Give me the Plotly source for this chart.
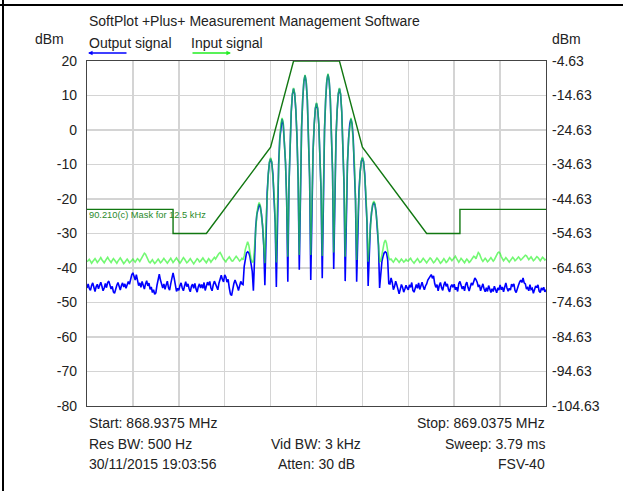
import numpy as np
import plotly.graph_objects as go

# ---------------- data ----------------
start_mhz = 868.9375
stop_mhz = 869.0375
centre_mhz = 868.9875
n_points = 401

# Output signal (blue), dBm, one value per 0.25 kHz sweep point
output_dbm = [
    -45.8,-44.6,-45.9,-46.5,-45.1,-44.3,-45.6,-46.8,-45.4,-44.7,-46.0,-45.2,-44.1,-45.3,-46.6,-45.8,-44.5,-45.7,-44.2,-43.8,
    -44.9,-46.1,-45.3,-46.9,-47.3,-45.8,-45.0,-44.2,-45.6,-46.4,-45.1,-44.3,-45.5,-44.6,-45.9,-44.8,-43.9,-44.7,-42.8,-42.0,
    -41.4,-42.9,-43.5,-41.9,-43.8,-45.1,-44.3,-45.6,-43.9,-44.8,-46.1,-44.6,-43.7,-45.2,-44.4,-46.2,-45.5,-47.1,-46.3,-47.6,
    -47.2,-45.0,-42.6,-41.8,-43.5,-44.9,-45.8,-44.6,-46.2,-44.9,-43.8,-45.7,-46.4,-44.5,-43.1,-41.4,-43.0,-45.2,-46.8,-45.9,
    -46.5,-45.1,-44.3,-45.8,-46.6,-45.2,-44.0,-45.4,-44.6,-46.0,-46.9,-45.3,-44.7,-45.9,-44.5,-46.1,-47.0,-45.4,-44.6,-45.8,
    -44.8,-45.9,-44.2,-46.5,-45.3,-44.1,-45.0,-43.9,-45.8,-46.6,-44.9,-43.8,-44.6,-45.7,-46.3,-44.4,-43.2,-42.1,-43.3,-44.0,
    -42.0,-42.6,-44.1,-43.3,-45.8,-47.6,-48.0,-46.0,-44.5,-43.5,-44.2,-45.3,-46.5,-45.1,-43.9,-44.6,-44.8,-39.5,-36.8,-35.6,
    -35.3,-35.6,-36.7,-38.4,-41.0,-46.6,-34.1,-28.3,-24.5,-22.3,-21.5,-22.2,-24.3,-27.8,-33.3,-45.0,-26.7,-18.2,-12.7,-9.4,
    -8.3,-9.4,-12.8,-18.3,-26.9,-45.5,-21.2,-9.9,-2.6,1.7,3.2,1.8,-2.5,-9.5,-20.4,-44.0,-16.0,-3.1,5.3,10.3,
    12.0,10.4,5.7,-2.2,-14.3,-40.5,-12.4,0.6,9.0,14.1,15.8,14.0,8.7,-0.2,-13.9,-43.5,-17.9,-6.1,1.6,6.2,
    7.7,6.2,1.6,-6.0,-17.7,-43.0,-13.5,0.1,9.0,14.3,16.1,14.4,9.3,0.9,-12.1,-40.3,-14.2,-2.1,5.7,10.4,
    12.0,10.3,5.3,-3.1,-15.9,-43.8,-20.3,-9.5,-2.4,1.8,3.2,1.8,-2.5,-9.5,-20.4,-44.0,-26.1,-17.8,-12.4,-9.2,
    -8.1,-9.2,-12.6,-18.1,-26.7,-45.2,-33.1,-27.5,-23.9,-21.7,-21.0,-21.7,-24.0,-27.7,-33.4,-45.8,-40.6,-38.1,-36.6,-35.6,
    -35.3,-35.6,-37.5,-44.5,-44.6,-42.9,-44.2,-46.3,-45.4,-43.8,-44.9,-46.8,-47.5,-46.2,-44.8,-45.6,-47.0,-46.1,-45.0,-45.8,
    -46.3,-44.9,-45.6,-44.2,-46.5,-47.0,-45.6,-44.8,-45.9,-44.3,-46.2,-45.0,-44.1,-45.4,-46.3,-45.2,-44.6,-43.5,-42.9,-42.2,
    -41.9,-43.0,-42.3,-44.5,-45.6,-44.8,-46.6,-45.1,-44.2,-45.7,-46.5,-44.9,-44.0,-45.3,-44.6,-46.2,-46.9,-45.4,-44.8,-45.6,
    -44.7,-46.3,-45.6,-46.8,-44.5,-43.9,-45.2,-46.1,-45.3,-46.6,-44.8,-44.1,-45.6,-46.7,-45.5,-44.3,-45.0,-43.5,-42.9,-43.4,
    -44.1,-45.5,-44.9,-46.6,-45.2,-44.6,-46.0,-46.9,-45.7,-46.8,-45.1,-46.3,-47.1,-46.0,-46.8,-45.3,-46.5,-47.2,-45.8,-46.4,
    -44.9,-46.3,-45.5,-46.9,-45.6,-44.3,-45.8,-46.7,-45.9,-46.4,-44.7,-45.2,-44.6,-46.5,-47.1,-45.7,-45.0,-44.1,-43.5,-44.2,
    -42.9,-44.3,-44.6,-46.1,-45.7,-46.6,-44.8,-46.2,-45.9,-47.3,-46.0,-45.2,-45.7,-44.9,-46.7,-47.1,-45.8,-46.4,-45.6,-46.9,
    -46.3,
]

# Input signal (green), dBm
input_dbm = [
    -38.2,-37.9,-37.5,-38.0,-38.6,-38.1,-37.6,-37.3,-37.8,-38.4,-38.0,-37.4,-37.0,-37.6,-38.3,-38.5,-37.9,-37.2,-36.9,-37.5,
    -38.1,-38.4,-37.8,-37.3,-37.7,-38.3,-38.6,-38.0,-37.5,-37.1,-37.6,-38.2,-38.7,-38.3,-37.8,-37.4,-37.9,-38.5,-38.2,-37.6,
    -37.4,-37.9,-38.3,-37.8,-37.3,-37.6,-38.1,-37.5,-36.8,-36.2,-35.7,-36.0,-36.9,-37.6,-38.2,-38.5,-38.0,-37.6,-38.2,-38.7,
    -38.3,-37.7,-37.4,-37.9,-38.5,-38.2,-37.6,-37.2,-37.7,-38.3,-38.6,-38.1,-37.5,-37.2,-37.8,-38.4,-38.0,-37.4,-37.1,-37.6,
    -38.2,-38.6,-38.1,-37.5,-37.0,-37.4,-38.0,-38.5,-38.2,-37.6,-37.3,-37.8,-38.4,-38.8,-38.3,-37.7,-37.3,-37.6,-38.2,-38.0,
    -37.5,-37.1,-37.6,-38.2,-38.5,-37.9,-37.3,-37.7,-38.3,-37.8,-37.2,-36.9,-37.4,-37.0,-36.3,-35.8,-35.5,-36.1,-36.9,-37.5,
    -37.8,-38.2,-37.6,-37.0,-36.8,-37.3,-37.9,-38.0,-37.4,-36.9,-36.6,-37.0,-37.6,-38.0,-37.7,-37.2,-37.6,-36.5,-34.6,-33.1,
    -32.4,-33.4,-35.6,-37.5,-38.3,-38.2,-34.1,-28.2,-24.4,-22.1,-21.0,-21.9,-24.1,-27.7,-33.2,-38.6,-26.6,-18.1,-12.6,-9.2,
    -8.0,-9.2,-12.7,-18.2,-26.8,-38.4,-21.1,-9.8,-2.5,1.9,3.5,2.0,-2.4,-9.4,-20.3,-36.7,-15.9,-3.0,5.5,10.5,
    12.2,10.6,5.8,-2.1,-14.2,-36.2,-12.3,0.7,9.2,14.3,16.0,14.2,8.8,-0.1,-13.8,-36.2,-17.8,-6.0,1.7,6.4,
    7.9,6.4,1.7,-5.9,-17.6,-36.5,-13.4,0.2,9.2,14.5,16.3,14.6,9.5,1.0,-12.0,-35.5,-14.1,-2.0,5.8,10.6,
    12.2,10.5,5.4,-3.0,-15.8,-36.7,-20.2,-9.4,-2.3,2.0,3.5,2.0,-2.4,-9.4,-20.3,-37.7,-26.0,-17.7,-12.3,-9.0,
    -7.8,-9.0,-12.5,-18.0,-26.6,-38.2,-33.0,-27.4,-23.8,-21.4,-20.6,-21.4,-23.8,-27.6,-33.3,-38.2,-38.0,-36.6,-34.4,-32.6,
    -31.9,-32.8,-35.0,-37.0,-37.6,-37.4,-37.9,-38.3,-37.8,-37.2,-37.5,-38.1,-38.4,-37.9,-37.4,-37.8,-38.3,-38.0,-37.5,-37.9,
    -38.0,-37.5,-37.2,-37.8,-38.3,-38.6,-38.1,-37.6,-37.3,-37.8,-38.4,-38.2,-37.7,-37.2,-37.6,-38.2,-38.5,-38.0,-37.5,-37.1,
    -37.4,-38.0,-38.5,-38.2,-37.6,-37.1,-37.5,-38.1,-38.6,-38.3,-37.7,-37.3,-37.8,-38.4,-38.1,-37.5,-37.0,-37.4,-37.9,-37.5,
    -36.9,-36.6,-37.2,-37.9,-38.3,-37.8,-37.2,-37.6,-38.2,-38.5,-37.9,-37.4,-37.8,-38.4,-38.1,-37.5,-37.0,-36.6,-36.8,-37.3,
    -36.4,-35.5,-35.9,-36.9,-37.6,-38.1,-37.7,-37.2,-37.6,-38.2,-37.9,-37.3,-37.0,-37.5,-38.0,-37.6,-36.9,-36.2,-35.6,-35.4,
    -35.8,-36.7,-37.4,-37.9,-37.5,-37.0,-37.4,-38.0,-38.3,-37.8,-37.2,-36.9,-37.3,-37.9,-37.6,-37.1,-36.8,-37.2,-37.7,-37.4,
    -37.0,-36.6,-36.3,-36.5,-37.1,-37.6,-37.2,-36.8,-37.3,-37.9,-37.6,-37.1,-36.7,-37.0,-37.5,-37.9,-37.4,-36.9,-37.2,-37.7,
    -37.4,
]

# ETSI mask 90.210(c), offset from centre (kHz) and level (dBm)
mask_offset_khz = [-50, -31.25, -31.25, -24, -10, -5, 5, 10, 24, 31.25, 31.25, 50]
mask_dbm = [-23, -23, -30, -30, -5, 20, 20, -5, -30, -30, -23, -23]

left_ticks = [20, 10, 0, -10, -20, -30, -40, -50, -60, -70, -80]
right_ticks = [-4.63, -14.63, -24.63, -34.63, -44.63, -54.63, -64.63, -74.63, -84.63, -94.63, -104.63]

assert len(output_dbm) == n_points, len(output_dbm)
assert len(input_dbm) == n_points, len(input_dbm)

freq = np.linspace(start_mhz, stop_mhz, n_points)
mask_freq = [centre_mhz + k / 1000.0 for k in mask_offset_khz]

# ---------------- figure ----------------
W, H = 623, 491
L, R, T, B = 87, 546, 61, 406
FONT = "Liberation Sans, Arial, Helvetica, sans-serif"
FS = 14


def px(x):
    return (x - L) / (R - L)


def py(y):
    return (B - y) / (B - T)


fig = go.Figure()
fig.add_trace(go.Scatter(x=freq, y=output_dbm, mode="lines",
                         line=dict(color="#0000ff", width=1.6), showlegend=False,
                         hoverinfo="skip"))
fig.add_trace(go.Scatter(x=freq, y=input_dbm, mode="lines",
                         line=dict(color="rgba(40,245,40,0.65)", width=1.6), showlegend=False,
                         hoverinfo="skip"))
fig.add_trace(go.Scatter(x=mask_freq, y=mask_dbm, mode="lines",
                         line=dict(color="#117711", width=1.4), showlegend=False,
                         cliponaxis=True, hoverinfo="skip"))
fig.add_trace(go.Scatter(x=[None], y=[None], yaxis="y2", showlegend=False))

fig.update_layout(
    width=W, height=H,
    margin=dict(l=L, r=W - R, t=T, b=H - B, pad=0),
    paper_bgcolor="white", plot_bgcolor="white",
    font=dict(family=FONT, size=FS, color="#222222"),
    xaxis=dict(range=[start_mhz, stop_mhz], dtick=0.01, tick0=start_mhz,
               showticklabels=False, ticks="", showgrid=True,
               gridcolor="#d4d4d4", gridwidth=1.5, zeroline=False,
               showline=True, linecolor="#444444", linewidth=1.2, mirror=True),
    yaxis=dict(range=[-80, 20], tickvals=left_ticks, ticktext=[str(v) for v in left_ticks],
               ticks="", showgrid=True, gridcolor="#d4d4d4", gridwidth=1.5,
               zeroline=False, showline=True, linecolor="#444444", linewidth=1.2,
               mirror=True, ticklabelstandoff=6, tickfont=dict(size=FS)),
    yaxis2=dict(range=[-104.63, -4.63], overlaying="y", side="right",
                tickvals=right_ticks, ticktext=["%.2f" % v for v in right_ticks],
                ticks="", showgrid=False, zeroline=False, showline=False,
                ticklabelstandoff=5, tickfont=dict(size=FS)),
    showlegend=False,
    hovermode=False,
)

ann = []


def text(t, x, y, xanchor="left", size=FS, color="#222222"):
    ann.append(dict(text=t, x=px(x), y=py(y), xref="paper", yref="paper",
                    xanchor=xanchor, yanchor="middle", showarrow=False,
                    font=dict(size=size, color=color, family=FONT)))


text("SoftPlot +Plus+ Measurement Management Software", 87, 21)
text("dBm", 49, 39, "center")
text("dBm", 566, 39, "center")
text("Output signal", 87, 43)
text("Input signal", 189, 43)
text("Start: 868.9375 MHz", 87, 423)
text("Stop: 869.0375 MHz", 547, 423, "right")
text("Res BW: 500 Hz", 87, 444)
text("Vid BW: 3 kHz", 316, 444, "center")
text("Sweep: 3.79 ms", 547, 444, "right")
text("30/11/2015 19:03:56", 87, 464)
text("Atten: 30 dB", 316, 464, "center")
text("FSV-40", 547, 464, "right")
text("90.210(c) Mask for 12.5 kHz", 87, 215, size=9.3, color="#2a8a2a")

# legend arrows
ann.append(dict(text="", x=px(88), y=py(53), xref="paper", yref="paper",
                ax=40, ay=0, showarrow=True, arrowhead=2, arrowsize=0.7,
                arrowwidth=1.3, arrowcolor="#0000ff"))
ann.append(dict(text="", x=px(231), y=py(53), xref="paper", yref="paper",
                ax=-40, ay=0, showarrow=True, arrowhead=2, arrowsize=0.7,
                arrowwidth=1.3, arrowcolor="#22ee22"))
fig.update_layout(annotations=ann)

# outer border lines
fig.add_shape(type="line", xref="paper", yref="paper",
              x0=px(3), x1=px(3), y0=py(0), y1=py(H), line=dict(color="black", width=2))
fig.add_shape(type="line", xref="paper", yref="paper",
              x0=px(0), x1=px(W), y0=py(5), y1=py(5), line=dict(color="black", width=2))

fig.write_html("out.html", config={"displayModeBar": False, "staticPlot": True},
               post_script="document.body.style.margin='0';document.body.style.overflow='hidden';")
